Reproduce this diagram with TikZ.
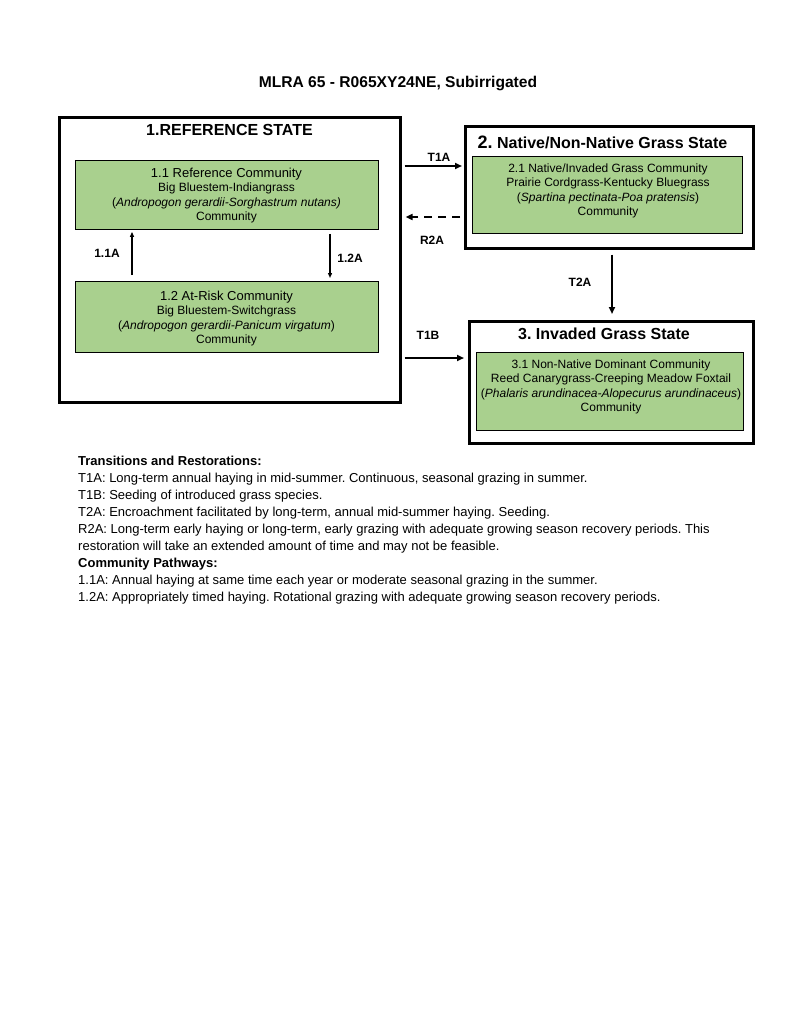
\documentclass[tikz,border=0pt]{standalone}
\usepackage{fontspec}
\setmainfont{Liberation Sans}
\usetikzlibrary{arrows.meta,calc}
\frenchspacing
\definecolor{commgreen}{RGB}{169,208,142}
\tikzset{
  statebox/.style={draw=black, line width=2.6pt, fill=white, anchor=north west, inner sep=0pt},
  commbox/.style={draw=black, line width=0.9pt, fill=commgreen, anchor=north west, inner sep=0pt},
  commtext/.style={align=center, font=\fontsize{12}{14.5}\selectfont, inner sep=0pt},
  titletext/.style={font=\fontsize{16}{18}\selectfont\bfseries, inner sep=0pt},
  lbl/.style={font=\fontsize{12}{14}\selectfont\bfseries, inner sep=0pt},
  bigarr/.style={line width=2pt, -{Triangle[length=7pt,width=6pt]}},
  smallarr/.style={line width=1.4pt, -{Triangle[length=5pt,width=4pt]}},
  notes/.style={font=\fontsize{13}{17}\selectfont, anchor=north west, align=left, inner sep=0pt}
}
\begin{document}
\begin{tikzpicture}[x=1pt,y=-1pt]
\useasboundingbox (0,0) rectangle (800,1035);
\node[font=\fontsize{15.6}{18}\selectfont\bfseries, inner sep=0pt] (title) at (398,84) {MLRA 65 - R065XY24NE, Subirrigated};

% State 1
\node[statebox, minimum width=341pt, minimum height=285pt] (s1) at (58,116) {};
\node[titletext] (s1t) at (229.5,130) {1.REFERENCE STATE};
\node[commbox, minimum width=303pt, minimum height=69pt] (c11) at (75,160) {};
\node[commtext] (c11t) at (226.5,195.5) {{\fontsize{13}{14}\selectfont 1.1 Reference Community}\\Big Bluestem-Indiangrass\\(\textit{Andropogon gerardii-Sorghastrum nutans)}\\Community};
\node[commbox, minimum width=303pt, minimum height=71pt] (c12) at (75,281) {};
\node[commtext] (c12t) at (226.5,318.5) {{\fontsize{13}{16}\selectfont 1.2 At-Risk Community}\\Big Bluestem-Switchgrass\\(\textit{Andropogon gerardii-Panicum virgatum})\\Community};

\draw[smallarr] ($(c12.north west)+(57,-6)$) coordinate (a11s) -- ($(c11.south west)+(57,2)$) coordinate (a11e);
\node[lbl] (l11) at (107,253) {1.1A};
\draw[smallarr] ($(c11.south west)+(255,4)$) coordinate (a12s) -- ($(c12.north west)+(255,-3)$) coordinate (a12e);
\node[lbl] (l12) at (350,258) {1.2A};

% State 2
\node[statebox, minimum width=288pt, minimum height=122pt] (s2) at (464,125) {};
\node[titletext] (s2t) at (602.5,142) {{\fontsize{18}{18}\selectfont 2.} Native/Non-Native Grass State};
\node[commbox, minimum width=270pt, minimum height=77pt] (c21) at (472,156) {};
\node[commtext, anchor=north] (c21t) at (608,163.5) {2.1 Native/Invaded Grass Community\\Prairie Cordgrass-Kentucky Bluegrass\\(\textit{Spartina pectinata-Poa pratensis})\\Community};

% State 3
\node[statebox, minimum width=284pt, minimum height=122pt] (s3) at (468,320) {};
\node[titletext] (s3t) at (604,334) {3. Invaded Grass State};
\node[commbox, minimum width=267pt, minimum height=78pt] (c31) at (476,352) {};
\node[commtext, anchor=north] (c31t) at (611,359.5) {3.1 Non-Native Dominant Community\\Reed Canarygrass-Creeping Meadow Foxtail\\(\textit{Phalaris arundinacea-Alopecurus arundinaceus})\\Community};

% Transitions
\draw[bigarr] ($(s1.north east)+(3,50)$) coordinate (t1as) -- ($(s2.north west)+(-2,41)$) coordinate (t1ae);
\node[lbl] (lt1a) at (439,157) {T1A};
\draw[bigarr, dash pattern=on 8pt off 6pt] ($(s2.north west)+(-4,92)$) coordinate (r2as) -- ($(s1.north east)+(4,101)$) coordinate (r2ae);
\node[lbl] (lr2a) at (432,240) {R2A};
\draw[bigarr] ($(s2.south west)+(148,5)$) coordinate (t2as) -- ($(s3.north west)+(144,-6)$) coordinate (t2ae);
\node[lbl] (lt2a) at (580,282) {T2A};
\draw[bigarr] ($(s1.north east)+(3,242)$) coordinate (t1bs) -- ($(s3.north west)+(-4,38)$) coordinate (t1be);
\node[lbl] (lt1b) at (428,335) {T1B};

% Notes
\node[notes] (notes) at (78,455.5) {\textbf{Transitions and Restorations:}\\
T1A: Long-term annual haying in mid-summer. Continuous, seasonal grazing in summer.\\
T1B: Seeding of introduced grass species.\\
T2A: Encroachment facilitated by long-term, annual mid-summer haying. Seeding.\\
R2A: Long-term early haying or long-term, early grazing with adequate growing season recovery periods. This\\
restoration will take an extended amount of time and may not be feasible.\\
\textbf{Community Pathways:}\\
1.1A: Annual haying at same time each year or moderate seasonal grazing in the summer.\\
1.2A: Appropriately timed haying. Rotational grazing with adequate growing season recovery periods.};
\end{tikzpicture}
\end{document}
